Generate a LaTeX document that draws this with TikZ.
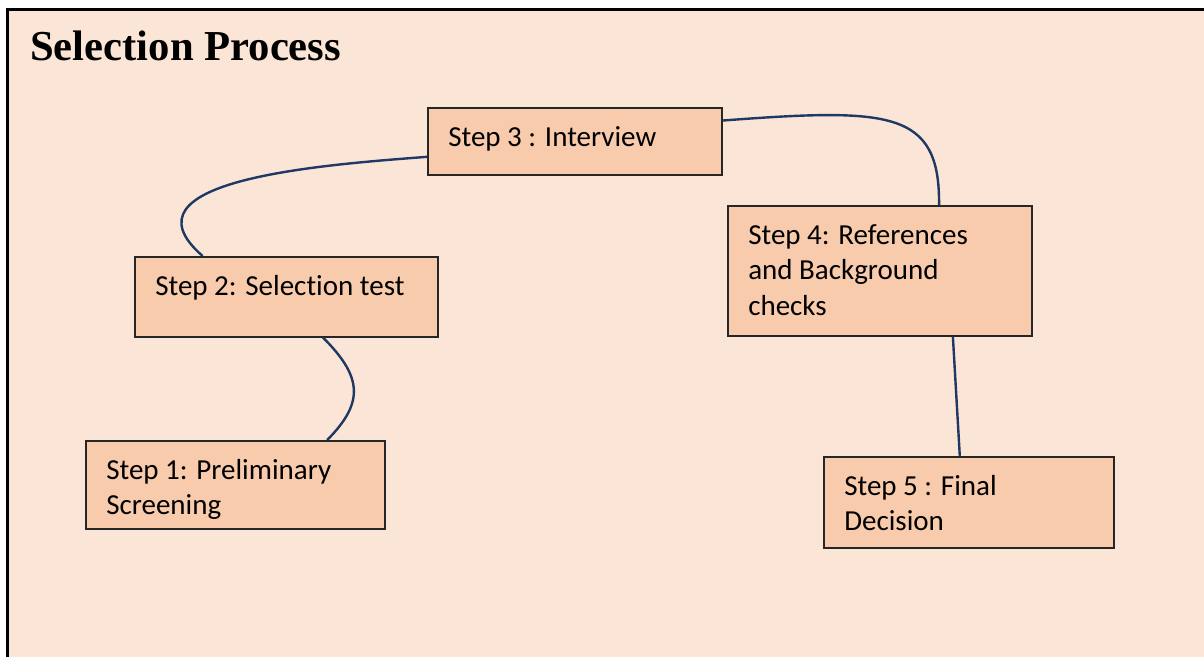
\documentclass[tikz,border=0pt]{standalone}
\usepackage{fontspec}
\setmainfont{Carlito}[Ligatures=NoCommon]
\newfontfamily\titlefont{Liberation Serif}
\usepackage{tikz}
\usetikzlibrary{positioning}
\definecolor{bgfill}{HTML}{FBE5D6}
\definecolor{boxfill}{HTML}{F8CBAD}
\definecolor{linkblue}{HTML}{1F3864}
\tikzset{
    stepbox/.style={rectangle, draw=black!85, line width=1.2pt, fill=boxfill, inner sep=0pt, anchor=north west},
    steptext/.style={anchor=north west, align=left, inner sep=0pt, font=\fontsize{21.75}{26.6}\selectfont},
    link/.style={draw=linkblue, line width=1.8pt}
}

\begin{document}
\begin{tikzpicture}[x=0.75pt, y=-0.75pt]

    % Frame
    \path[use as bounding box, clip] (0,0) rectangle (1204,657);
    \draw[line width=2.25pt, fill=bgfill] (7.5,9.5) rectangle (1240,690);
    \node[anchor=base west, inner sep=0pt, font=\titlefont\bfseries\fontsize{32}{38}\selectfont] (title) at (30,60) {Selection Process};

    % Boxes
    \node[stepbox, minimum width=224.25pt, minimum height=66pt] (s1) at (85,440) {};
    \node[stepbox, minimum width=227.25pt, minimum height=60pt] (s2) at (134,256) {};
    \node[stepbox, minimum width=220.5pt, minimum height=50.25pt] (s3) at (427,107) {};
    \node[stepbox, minimum width=228pt, minimum height=97.5pt] (s4) at (727,205) {};
    \node[stepbox, minimum width=217.5pt, minimum height=68.25pt] (s5) at (823,456) {};

    % Texts
    \begin{scope}
        \clip (s1.north west) rectangle ([shift={(0,-11)}]s1.south east);
        \node[steptext] (t1) at ([shift={(21,19)}]s1.north west) {Step 1: Preliminary\\Screening};
    \end{scope}
    \node[steptext] (t2) at ([shift={(21,19)}]s2.north west) {Step 2: Selection test};
    \node[steptext] (t3) at ([shift={(21,19)}]s3.north west) {Step 3 : Interview};
    \node[steptext] (t4) at ([shift={(21,19)}]s4.north west) {Step 4: References\\and Background\\checks};
    \node[steptext] (t5) at ([shift={(21,19)}]s5.north west) {Step 5 : Final\\Decision};

    % Links
    \draw[link] (s1.26) to[out=45, in=-45, looseness=1.35] (s2.-48);
    \draw[link] (s2.154) .. controls (115,180) and (320,165) .. (s3.186);
    \draw[link] (s3.8) .. controls (890,108) and (940,110) .. (s4.48);
    \draw[link] (s4.-42) -- (s5.101);

\end{tikzpicture}
\end{document}
